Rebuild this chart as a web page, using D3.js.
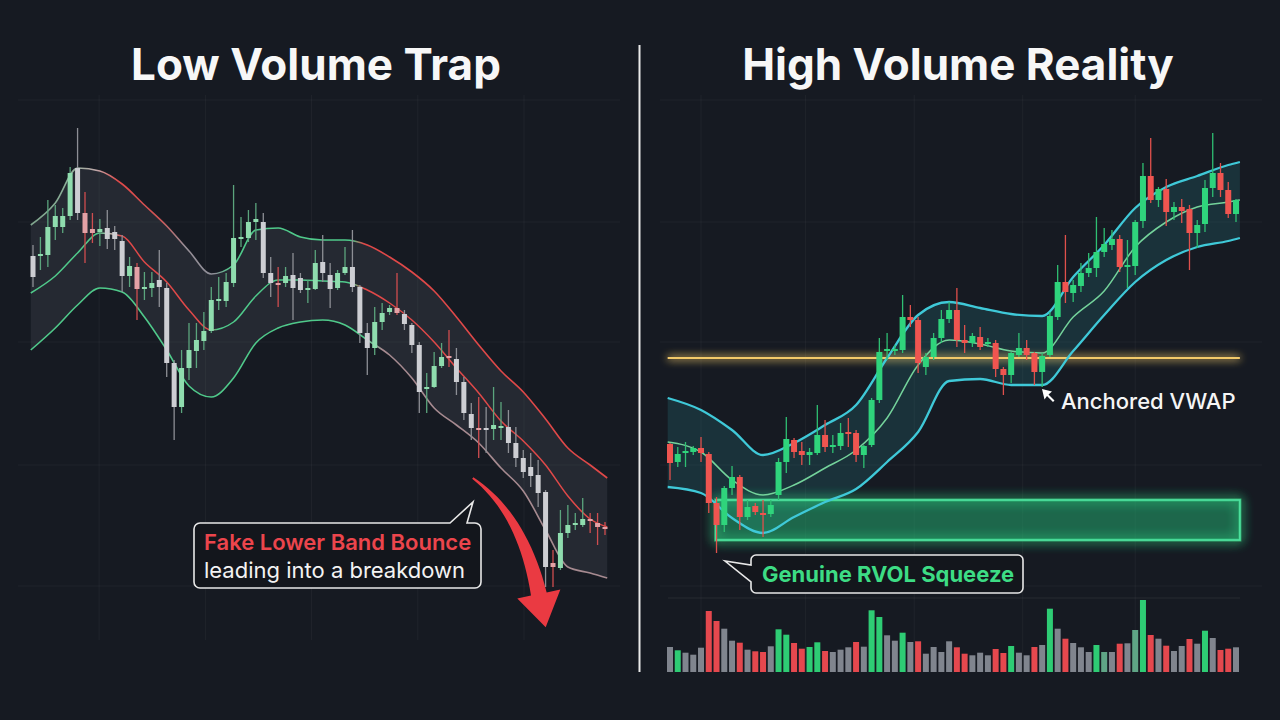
<!DOCTYPE html>
<html><head><meta charset="utf-8">
<script src="https://cdn.jsdelivr.net/npm/d3@7"></script>
<style>html,body{margin:0;padding:0;background:#161a22;}svg{display:block;}</style>
</head><body>
<svg id="c" width="1280" height="720"></svg>
<script>
// ---------------- DATA ----------------
const titles = ["Low Volume Trap", "High Volume Reality"];

// Left panel candles (price units)
const leftOpen  = [232,232.5,232.5,246.5,246.5,252,276,253.5,245.5,244, 246,244,239.5,222,226.5,215.5,216,220,216,178.5, 156.5,176,184.5,189.5,194.5,209.5,209.5,218.5,240.5,241, 249,249,223.5,218.5,218.5,222.5,221,215,215.5,229, 222.5,216,223.5,226.5,216.5,193.5,186,199,204,206, 203,197.5,187.5,166,166.5,177,182,180.5,169,153, 146,146,145.5,146,146.5,138.5,131,126.5,122.5,114, 78.5,76,93.5,97.5,97.5,100.5,98.5,96.5];
const leftClose = [221.5,233,246.5,252,252,273.5,253.5,243.5,243.5,245.5, 240.5,240.5,222,227,215.5,216.5,218.5,216.5,178.5,156.5, 176,185,190,194.5,210,210.5,219,241,241.5,249, 250.5,223.5,218.5,217.5,222,216,215,216,228.5,223.5, 215.5,223.5,226.5,216.5,193.5,186,199,203.5,206,203.5, 198,187.5,164,166.5,177,181.5,181,169,153.5,146, 145,145,147.5,147,138.5,131,124,122,113.5,76.5, 76.5,93.5,97.5,98.5,100.5,99.5,96.5,95.5];
const leftHigh  = [237.5,241.5,260,257.5,256,276.5,296,264,253.5,250.5, 255,247,242.5,231.5,228.5,224,224,235,218.5,180, 185,198.5,198.5,204,216.5,221.5,223.5,267.5,251.5,255, 258.5,253.5,231.5,226.5,226.5,233.5,223.5,220,235,242.5, 228.5,225,236.5,245,217.5,198.5,206.5,208.5,207.5,223.5, 205,198.5,189,173.5,184,188.5,195,186,171.5,158.5, 161.5,156.5,166.5,159,155,146.5,135,133.5,130,115, 85,105,107.5,103.5,111,103.5,103.5,99];
const leftLow   = [216.5,225,226.5,240,243.5,250,250,228.5,238.5,237, 235.5,235,214,216.5,200,210,211.5,206.5,171.5,140, 153.5,170,176,185,193.5,205,206.5,216.5,236.5,239, 240,221,211.5,206.5,216.5,200,213.5,208.5,215,219, 206,215,222.5,214,188.5,172.5,182.5,195,202.5,202.5, 195,183.5,153.5,153.5,166,176,176.5,162.5,150,140, 131,133.5,140,140,133.5,126.5,121,116.5,106.5,66.5, 66.5,75,91,95,96.5,93.5,87.5,92.5];
const leftTone  = ["w","g","g","g","g","g","w","r","r","g", "w","w","w","g","r","g","g","w","w","w", "g","g","g","g","g","g","g","g","g","g", "g","w","w","r","g","w","w","g","g","w", "w","g","g","w","w","w","g","g","g","r", "w","w","w","g","g","g","r","w","w","w", "r","w","g","g","w","w","w","w","w","w", "r","g","g","g","g","r","r","r"];

// Left bands (sampled at candle index positions)
const leftBandIdx = [-0.3,3,6,9,12,15,18,21,24,27,30,33,36,39,42,45,48,51,54,57,60,63,66,69,72,75,77.3];
const leftUpper = [247.5,258.5,276,274.5,268,257.5,247,234.5,223,227.5,245,246,241.5,240,240,237.5,231.5,224,214.5,201.5,187.5,174.5,164,150.5,136,127.5,121];
const leftMid   = [213.5,222,233.5,243.5,242,229,219,205,195,199,212,220,220,219.5,219,215,208.5,200,189,176,163.5,149.5,139.5,127.5,112,100.5,96.5];
const leftLower = [185,196,207.5,216,214,201.5,185,167,161.5,171,188.5,196,199,200,197.5,190,182.5,171,156,147.5,138.5,126,114.5,95,76.5,73.5,71];

// Right panel candles
const rightOpen  = [138,129,133.5,134,136,133,108.5,97.5,116,121.5, 101.5,107,103.5,103,112.5,129,140,134.5,132.5,133.5, 142.5,136.5,137,144,143.5,132.5,137.5,160,185,185.5, 185,201.5,200,176.5,181.5,191,200.5,205,190,188.5, 191.5,188.5,188.5,175.5,172.5,182.5,186,183.5,174,182.5, 201.5,219,213.5,217,223.5,226,234,237.5,240.5,226.5, 227,249.5,272,260,265.5,254,256.5,255.5,243.5,248, 266,273.5,265,253];
const rightClose = [128.5,133,134.5,136,133.5,108.5,97.5,116,121.5,101.5, 106.5,104,103,107.5,129,140.5,134,132.5,134,142.5, 136.5,137.5,143.5,143,132.5,137,160,184,185.5,185, 201.5,200,178.5,181.5,191,200.5,205,190,188.5,192, 186.5,189,175.5,172.5,183.5,186,182.5,174,182,202, 219,214,217.5,223.5,226,234,238,240.5,226.5,227.5, 249,272,260,265.5,254,256.5,254.5,243.5,247.5,266, 273.5,265,253,260];
const rightHigh  = [138.5,136.5,139,137,141.5,134,111.5,117,127,122.5, 110,108.5,110,110,131,151.5,141,139,136,157.5, 150,142.5,148.5,151,145,137.5,161,191,193.5,187.5, 212.5,207.5,201.5,183.5,193.5,205,209,216,197.5,193.5, 196.5,191,190,176.5,184,193.5,190,184,183.5,204, 227.5,242.5,220,228.5,233.5,251.5,246,245,242.5,240, 250,278.5,291,266.5,270.5,259,260.5,257.5,250,270, 293.5,278.5,269,260.5];
const rightLow   = [120,126.5,126.5,132.5,129,103.5,83.5,94,112.5,95, 100,102.5,91.5,101.5,110,123.5,131,127.5,127.5,132.5, 134,133.5,135,136.5,129,126,136.5,158.5,180,182.5, 183.5,196.5,173.5,172.5,180,188.5,198.5,186.5,183.5,186.5, 185,186.5,171.5,162.5,168.5,181.5,180,167.5,166.5,181.5, 200,208.5,209,214,221.5,221.5,231.5,235,224,216, 222.5,246,258.5,256.5,247,250,248.5,225,236,244, 261.5,261.5,251,249];
const rightTone  = ["r","g","g","g","r","r","r","g","g","r", "g","r","r","g","g","g","r","r","g","g", "r","g","g","r","r","g","g","g","g","g", "g","r","r","g","g","g","g","r","r","g", "r","g","r","r","g","g","r","r","g","g", "g","r","g","g","g","g","g","g","r","g", "g","g","r","g","r","g","r","r","g","g", "g","r","r","g"];

// Right bands
const rightBandIdx = [-0.3,4,8,12,16,20,24,28,32,36,40,44,48,52,56,60,64,68,72,73.5];
const rightUpper = [161,155,145,132.5,138.5,147.5,157.5,181,202.5,209,206,203,202,221.5,237.5,256,266.5,272,277.5,279];
const rightMid   = [139,134,120,112.5,117.5,126,135,151,177.5,190,188,184.5,183.5,201.5,214.5,236.5,249,256.5,259,260];
const rightLower = [116.5,113.5,101,93.5,101.5,109,115.5,129,144,169.5,170.5,167.5,167.5,184.5,202.5,219,230,236.5,239.5,241];

// Levels / zones
const anchoredLevel = 181;           // horizontal yellow level (price)
const squeezeZone = {from: 5.9, to: 73.5, top: 110, bottom: 90};

// Volume (right panel)
const volume = [25,21.7,19.3,17.3,24.3,61,51,43.3,31.3,29.3, 22.3,20.7,20,25.7,42.7,37.3,29,23.3,25,29.7, 21,20,22.3,24.7,30,25.3,61.7,55,36.7,31.3, 39.3,30,30.7,18.3,25,20,30.7,24.7,18.3,16.7, 19.3,16.7,23,19,26,19.3,16.7,25,27,63.3, 43.3,33.3,29,24.7,20,27,20,20,28.3,28.7, 42,72,37,33.3,26.3,21,26,33,28.3,41.3, 34,22,23.3,24.7];
const volTone = ["w","g","w","w","w","r","r","w","w","r", "w","r","r","w","g","g","r","r","g","g", "r","w","w","w","r","w","g","g","w","w", "g","w","r","w","w","w","w","r","r","w", "w","w","r","r","g","w","w","r","w","g", "w","r","w","w","w","g","m","w","r","w", "m","g","r","w","r","w","w","r","w","g", "w","r","r","w"];

// Grid
const gridPrice = [310, 249, 189, 127.5, 67];
const leftGridIdx = [8.9, 23.2, 37.5, 51.8, 66.1];
const rightGridIdx = [4, 17.5, 31.5, 45.5, 60];

// Annotation texts
const leftNote = ["Fake Lower Band Bounce", "leading into a breakdown"];
const rightNote = "Genuine RVOL Squeeze";
const vwapLabel = "Anchored VWAP";

// ---------------- RENDER ----------------
const svg = d3.select("#c");
const BG = "#161a22";
svg.append("rect").attr("width",1280).attr("height",720).attr("fill",BG);
const defs = svg.append("defs");

const xL = d3.scaleLinear().domain([0, leftOpen.length-1]).range([33, 605]);
const xR = d3.scaleLinear().domain([0, rightOpen.length-1]).range([670, 1236]);
const y  = d3.scaleLinear().domain([40, 300]).range([640, 120]);
const yV = d3.scaleLinear().domain([0, 80]).range([672, 592]);

// filters
function glow(id, std){
  const f = defs.append("filter").attr("id",id).attr("filterUnits","userSpaceOnUse")
    .attr("x",0).attr("y",0).attr("width",1280).attr("height",720);
  f.append("feGaussianBlur").attr("in","SourceGraphic").attr("stdDeviation",std).attr("result","b");
  const m = f.append("feMerge");
  m.append("feMergeNode").attr("in","b");
  m.append("feMergeNode").attr("in","b");
  m.append("feMergeNode").attr("in","SourceGraphic");
}
glow("glowY", 4);
glow("glowG", 6);

// grid
const grid = svg.append("g").attr("stroke","rgba(255,255,255,0.045)").attr("stroke-width",1);
gridPrice.forEach(p=>{
  grid.append("line").attr("x1",18).attr("x2",620).attr("y1",y(p)).attr("y2",y(p));
  grid.append("line").attr("x1",660).attr("x2",1262).attr("y1",y(p)).attr("y2",y(p));
});
leftGridIdx.forEach(i=>grid.append("line").attr("x1",xL(i)).attr("x2",xL(i)).attr("y1",95).attr("y2",640));
rightGridIdx.forEach(i=>grid.append("line").attr("x1",xR(i)).attr("x2",xR(i)).attr("y1",95).attr("y2",672));
grid.append("line").attr("x1",668).attr("x2",1240).attr("y1",yV(74)).attr("y2",yV(74)).attr("stroke","rgba(255,255,255,0.07)");

// titles
svg.selectAll("text.title").data(titles).join("text")
  .attr("x",(d,i)=> i===0 ? 316 : 958).attr("y",80)
  .attr("text-anchor","middle").attr("fill","#f7f7f7")
  .attr("font-family","Inter, 'Open Sans', sans-serif").attr("font-weight",700).attr("font-size",44)
  .text(d=>d);

// divider
svg.append("line").attr("x1",639.5).attr("x2",639.5).attr("y1",45).attr("y2",672)
  .attr("stroke","#e9e9e9").attr("stroke-width",2);

// gradient helper for multi-colored band lines
function lineGrad(id, x, stops){
  const g = defs.append("linearGradient").attr("id",id).attr("gradientUnits","userSpaceOnUse")
    .attr("x1",x(stops[0][0])).attr("x2",x(stops[stops.length-1][0])).attr("y1",0).attr("y2",0);
  const x0 = x(stops[0][0]), x1 = x(stops[stops.length-1][0]);
  stops.forEach(s=> g.append("stop").attr("offset",(x(s[0])-x0)/(x1-x0)).attr("stop-color",s[1]));
}
const GRN="#4fc98a", RED="#e04848", PNK="#a68a90";
lineGrad("lu", xL, [[-0.3,"#7fa58d"],[5,"#8aae97"],[8.5,"#c0a9ab"],[11.5,RED],[17,"#d05454"],[20.5,"#978f97"],[24.5,"#8e8e98"],[26.5,GRN],[43,GRN],[44.5,RED],[77.3,RED]]);
lineGrad("lm", xL, [[-0.3,GRN],[8.5,GRN],[10.5,"#b8b0a8"],[12,RED],[23.5,RED],[24.8,GRN],[43,GRN],[44.5,RED],[77.3,RED]]);
lineGrad("ll", xL, [[-0.3,GRN],[44.5,GRN],[47,PNK],[77.3,PNK]]);

// ---- LEFT PANEL ----
const leftBand = leftBandIdx.map((i,k)=>({i, u:leftUpper[k], m:leftMid[k], l:leftLower[k]}));
const gL = svg.append("g");
gL.append("path").datum(leftBand)
  .attr("d", d3.area().x(d=>xL(d.i)).y0(d=>y(d.l)).y1(d=>y(d.u)).curve(d3.curveMonotoneX))
  .attr("fill","rgba(200,205,215,0.085)");
[["u","lu",1.6],["m","lm",1.5],["l","ll",1.6]].forEach(([k,id,w])=>{
  gL.append("path").datum(leftBand)
    .attr("d", d3.line().x(d=>xL(d.i)).y(d=>y(d[k])).curve(d3.curveMonotoneX))
    .attr("fill","none").attr("stroke",`url(#${id})`).attr("stroke-width",w);
});

function candles(g, x, O, H, L, C, tone, pal, bw){
  const idx = d3.range(O.length);
  g.selectAll("line.wick").data(idx).join("line").attr("class","wick")
    .attr("x1",i=>x(i)).attr("x2",i=>x(i)).attr("y1",i=>y(H[i])).attr("y2",i=>y(L[i]))
    .attr("stroke",i=>pal[tone[i]].wick).attr("stroke-width",1.3);
  g.selectAll("rect.body").data(idx).join("rect").attr("class","body")
    .attr("x",i=>x(i)-bw/2).attr("width",bw)
    .attr("y",i=>y(Math.max(O[i],C[i])))
    .attr("height",i=>Math.max(2, Math.abs(y(O[i])-y(C[i]))))
    .attr("fill",i=>pal[tone[i]].body);
}
const palL = {
  g:{body:"#8fdcae", wick:"#5ba57d"},
  w:{body:"#cdced3", wick:"#8d8f95"},
  r:{body:"#e3a1a6", wick:"#cf4d4f"}
};
candles(gL.append("g"), xL, leftOpen, leftHigh, leftLow, leftClose, leftTone, palL, 5);

// ---- RIGHT PANEL ----
const gR = svg.append("g");
const rightBand = rightBandIdx.map((i,k)=>({i, u:rightUpper[k], m:rightMid[k], l:rightLower[k]}));
gR.append("path").datum(rightBand)
  .attr("d", d3.area().x(d=>xR(d.i)).y0(d=>y(d.l)).y1(d=>y(d.u)).curve(d3.curveMonotoneX))
  .attr("fill","rgba(48,170,178,0.17)");

// squeeze zone
const zx0 = xR(squeezeZone.from), zx1 = xR(squeezeZone.to);
const zy0 = y(squeezeZone.top), zh = y(squeezeZone.bottom)-y(squeezeZone.top);
gR.append("rect").attr("x",zx0).attr("y",zy0).attr("width",zx1-zx0).attr("height",zh)
  .attr("fill","none").attr("stroke","#3ee08a").attr("stroke-width",3)
  .attr("filter","url(#glowG)").attr("opacity",0.75);
gR.append("rect").attr("x",zx0).attr("y",zy0).attr("width",zx1-zx0).attr("height",zh)
  .attr("fill","rgba(36,180,115,0.5)").attr("stroke","#4fe3a0").attr("stroke-width",1.6);

// yellow level
gR.append("line").attr("x1",xR(-0.3)).attr("x2",xR(73.5)).attr("y1",y(anchoredLevel)).attr("y2",y(anchoredLevel))
  .attr("stroke","#f2c96b").attr("stroke-width",2).attr("filter","url(#glowY)");

[["u","#3fc9d8",2.3],["l","#3fc9d8",2.3],["m","#74d39b",1.5]].forEach(([k,c,w])=>{
  gR.append("path").datum(rightBand)
    .attr("d", d3.line().x(d=>xR(d.i)).y(d=>y(d[k])).curve(d3.curveMonotoneX))
    .attr("fill","none").attr("stroke",c).attr("stroke-width",w);
});

const palR = {
  g:{body:"#2fd47c", wick:"#2fbf72"},
  r:{body:"#ef5550", wick:"#e0504c"}
};
candles(gR.append("g"), xR, rightOpen, rightHigh, rightLow, rightClose, rightTone, palR, 6);

// volume
const volCol = {w:"#80858e", g:"#2ecc74", r:"#e5484e", m:"#5fa586"};
svg.append("g").selectAll("rect").data(volume).join("rect")
  .attr("x",(d,i)=>xR(i)-3).attr("width",6)
  .attr("y",d=>yV(d)).attr("height",d=>yV(0)-yV(d))
  .attr("fill",(d,i)=>volCol[volTone[i]]);

// ---- ANNOTATIONS ----
// big red arrow (tail/tip anchored in data space)
(function(){
  const P0 = [xL(59.2), y(121)], T = [xL(68.9), y(46.5)];
  const P1 = [T[0]-6, T[1]-33];
  const C  = [P0[0]+0.75*(P1[0]-P0[0]), P0[1]+0.31*(P1[1]-P0[1])];
  const pt = t=>[(1-t)*(1-t)*P0[0]+2*(1-t)*t*C[0]+t*t*P1[0], (1-t)*(1-t)*P0[1]+2*(1-t)*t*C[1]+t*t*P1[1]];
  const tg = t=>{const dx=2*(1-t)*(C[0]-P0[0])+2*t*(P1[0]-C[0]), dy=2*(1-t)*(C[1]-P0[1])+2*t*(P1[1]-C[1]); const n=Math.hypot(dx,dy); return [dx/n,dy/n];};
  const left=[], right=[];
  d3.range(0,1.0001,0.05).forEach(t=>{
    const p=pt(t), d=tg(t), n=[-d[1],d[0]], w=1+7*Math.pow(t,1.1);
    left.push([p[0]+n[0]*w, p[1]+n[1]*w]); right.push([p[0]-n[0]*w, p[1]-n[1]*w]);
  });
  const d=tg(1), n=[-d[1],d[0]];
  const hw=22, hl=34;
  const poly = left.concat([[P1[0]+n[0]*hw,P1[1]+n[1]*hw],[P1[0]+d[0]*hl,P1[1]+d[1]*hl],[P1[0]-n[0]*hw,P1[1]-n[1]*hw]], right.reverse());
  svg.append("path").attr("d", d3.line()(poly)+"Z").attr("fill","#ea3a42");
})();

// left callout
(function(){
  const bx=194, by=523, bw=287, bh=65, r=6;
  const tip=[473,502];
  const p = d3.path();
  p.moveTo(bx+r,by); p.lineTo(450,by); p.lineTo(tip[0],tip[1]); p.lineTo(467,by); p.lineTo(bx+bw-r,by);
  p.arcTo(bx+bw,by,bx+bw,by+r,r); p.lineTo(bx+bw,by+bh-r); p.arcTo(bx+bw,by+bh,bx+bw-r,by+bh,r);
  p.lineTo(bx+r,by+bh); p.arcTo(bx,by+bh,bx,by+bh-r,r); p.lineTo(bx,by+r); p.arcTo(bx,by,bx+r,by,r); p.closePath();
  svg.append("path").attr("d",p.toString()).attr("fill","#13161c").attr("stroke","#e8e8e8").attr("stroke-width",1.6);
  svg.append("text").attr("x",204).attr("y",550).attr("fill","#ec454c")
    .attr("font-family","Inter, sans-serif").attr("font-weight",600).attr("font-size",22).text(leftNote[0]);
  svg.append("text").attr("x",204).attr("y",578).attr("fill","#f3f3f3")
    .attr("font-family","Inter, sans-serif").attr("font-weight",400).attr("font-size",22).text(leftNote[1]);
})();

// right callout
(function(){
  const bx=751, by=555, bw=272, bh=38, r=5;
  const tip=[725,561];
  const p = d3.path();
  p.moveTo(bx+r,by); p.lineTo(bx+bw-r,by); p.arcTo(bx+bw,by,bx+bw,by+r,r);
  p.lineTo(bx+bw,by+bh-r); p.arcTo(bx+bw,by+bh,bx+bw-r,by+bh,r);
  p.lineTo(bx+r,by+bh); p.arcTo(bx,by+bh,bx,by+bh-r,r);
  p.lineTo(bx,582); p.lineTo(tip[0],tip[1]); p.lineTo(bx,565);
  p.lineTo(bx,by+r); p.arcTo(bx,by,bx+r,by,r); p.closePath();
  svg.append("path").attr("d",p.toString()).attr("fill","#13161c").attr("stroke","#e8e8e8").attr("stroke-width",1.6);
  svg.append("text").attr("x",762).attr("y",582).attr("fill","#3ddc84")
    .attr("font-family","Inter, sans-serif").attr("font-weight",700).attr("font-size",22).text(rightNote);
})();

// anchored VWAP label + cursor
(function(){
  const cx=1042, cy=389;
  svg.append("path").attr("transform",`translate(${cx},${cy})`)
    .attr("d","M0,0 L10,2.5 L6.5,5.5 L12.5,11.5 L11,13 L5,7 L2.5,10.5 Z").attr("fill","#ffffff");
  svg.append("text").attr("x",1061).attr("y",409).attr("fill","#f5f5f5")
    .attr("font-family","Inter, sans-serif").attr("font-weight",500).attr("font-size",22).text(vwapLabel);
})();
</script>
</body></html>
